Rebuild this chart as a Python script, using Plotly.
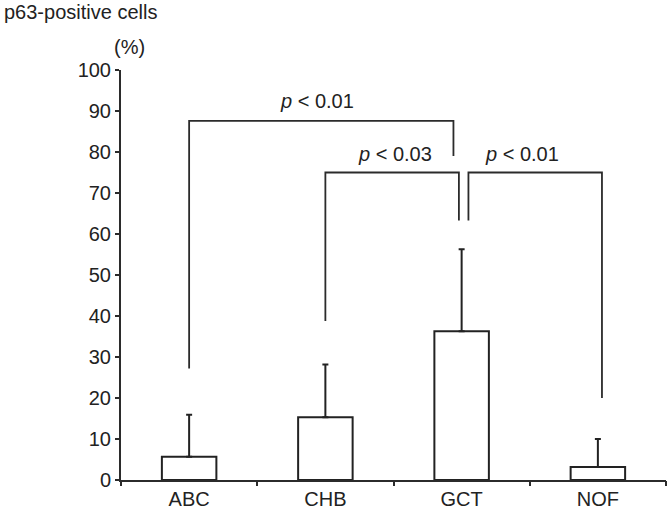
import plotly.graph_objects as go

categories = ["ABC", "CHB", "GCT", "NOF"]
means = [5.7, 15.3, 36.3, 3.2]
sd_upper = [10.2, 12.9, 20.0, 6.8]
y_ticks = [0, 10, 20, 30, 40, 50, 60, 70, 80, 90, 100]

# significance brackets: left x, right x, top, left foot, right foot
br_left = [0.0, 1.0, 2.05]
br_right = [1.94, 1.98, 3.03]
br_top = [87.6, 75.0, 75.0]
br_left_foot = [27.2, 38.8, 63.3]
br_right_foot = [79.0, 63.3, 20.0]
br_label = ["<i>p</i> < 0.01", "<i>p</i> < 0.03", "<i>p</i> < 0.01"]
br_label_x = [0.94, 1.51, 2.44]
br_label_y = [92.4, 79.6, 79.6]

LINE = "#2b2b2b"
FONT = "Liberation Sans, Arial, sans-serif"
FS = 20

fig = go.Figure()
fig.add_trace(go.Bar(
    x=list(range(len(categories))), y=means, width=0.4,
    marker=dict(color="white", line=dict(color="#222222", width=2)),
    error_y=dict(type="data", symmetric=False, array=sd_upper,
                 arrayminus=[0] * len(sd_upper), color="#222222",
                 thickness=2, width=3),
    showlegend=False, hoverinfo="skip",
))

for i in range(len(br_left)):
    fig.add_trace(go.Scatter(
        x=[br_left[i], br_left[i], br_right[i], br_right[i]],
        y=[br_left_foot[i], br_top[i], br_top[i], br_right_foot[i]],
        mode="lines", line=dict(color=LINE, width=1.8),
        showlegend=False, hoverinfo="skip",
    ))
    fig.add_annotation(x=br_label_x[i], y=br_label_y[i], text=br_label[i],
                       showarrow=False, font=dict(size=FS, color="#222222", family=FONT),
                       xanchor="center", yanchor="middle")

fig.add_annotation(xref="paper", yref="paper", x=-119 / 545, y=1 + 58 / 410,
                   text="p63-positive cells", showarrow=False, xanchor="left",
                   yanchor="middle", font=dict(size=FS, color="#222222", family=FONT))
fig.add_annotation(xref="paper", yref="paper", x=8 / 545, y=1 + 23 / 410,
                   text="(%)", showarrow=False, xanchor="center",
                   yanchor="middle", font=dict(size=FS, color="#222222", family=FONT))

fig.update_layout(
    width=667, height=510,
    margin=dict(l=121, r=1, t=70, b=30),
    plot_bgcolor="white", paper_bgcolor="white",
    font=dict(family=FONT, size=FS, color="#222222"),
    bargap=0.6,
)
fig.update_xaxes(
    range=[-0.5, 3.5], tickvals=[0, 1, 2, 3], ticktext=categories,
    ticks="", showline=True, linecolor=LINE, linewidth=2,
    showgrid=False, zeroline=False,
)
# boundary ticks on an overlaid axis
fig.update_layout(xaxis2=dict(
    overlaying="x", matches="x", side="bottom", range=[-0.5, 3.5],
    tickvals=[-0.5, 0.5, 1.5, 2.5, 3.5], showticklabels=False,
    ticks="outside", ticklen=5, tickcolor=LINE, tickwidth=1.8,
    showgrid=False, zeroline=False, showline=False,
))
fig.add_trace(go.Scatter(x=[0], y=[0], xaxis="x2", mode="markers",
                         marker=dict(opacity=0), showlegend=False, hoverinfo="skip"))
fig.update_yaxes(
    range=[0, 100], tickvals=y_ticks, ticks="outside", ticklen=4,
    tickcolor=LINE, tickwidth=1.8, showline=True, linecolor=LINE, linewidth=2,
    showgrid=False, zeroline=False,
)

fig.write_html("out.html", config={"displayModeBar": False},
               post_script="document.body.style.margin='0';")
